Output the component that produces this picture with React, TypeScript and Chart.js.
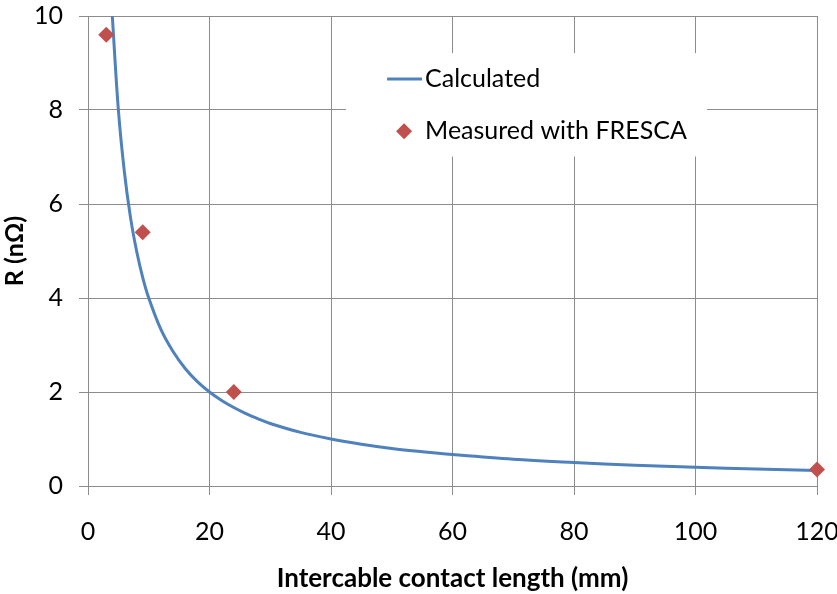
import React, { useEffect, useRef } from "react";
import { Chart, registerables } from "chart.js";

Chart.register(...registerables);

// Calculated curve
const calcLength = [4, 5, 6, 7, 8, 9, 10, 12, 14, 16, 18, 20, 22, 24, 26, 28, 30, 35, 40, 45, 50, 55, 60, 70, 80, 90, 100, 110, 120];
const calcR = [10, 8, 6.67, 5.71, 5, 4.44, 4, 3.33, 2.86, 2.5, 2.22, 2, 1.82, 1.67, 1.54, 1.43, 1.33, 1.14, 1.0, 0.89, 0.8, 0.73, 0.67, 0.57, 0.5, 0.44, 0.4, 0.36, 0.33];

// Measured points
const measLength = [3, 9, 24, 120];
const measR = [9.6, 5.4, 2.0, 0.35];

const seriesNames = ["Calculated", "Measured with FRESCA"];
const xTitle = "Intercable contact length (mm)";
const yTitle = "R (nΩ)";

const LINE_COLOR = "#4F81BD";
const MARK_COLOR = "#C0504D";
const GRID = "#8c8c8c";
const FONT = "Lato, 'Open Sans', sans-serif";

const legendPlugin = {
  id: "insideLegend",
  afterDatasetsDraw(chart: any) {
    const { ctx, chartArea } = chart;
    const w = chartArea.right - chartArea.left;
    const h = chartArea.bottom - chartArea.top;
    const bx = chartArea.left + w * 0.354;
    const by = chartArea.top + h * 0.079;
    const bw = w * 0.495;
    const bh = h * 0.22;
    ctx.save();
    ctx.fillStyle = "#ffffff";
    ctx.fillRect(bx, by, bw, bh);
    const y1 = by + bh * 0.25;
    const y2 = by + bh * 0.755;
    const textX = bx + 79;
    ctx.strokeStyle = LINE_COLOR;
    ctx.lineWidth = 3;
    ctx.beginPath();
    ctx.moveTo(bx + 41, y1);
    ctx.lineTo(bx + 76, y1);
    ctx.stroke();
    ctx.fillStyle = MARK_COLOR;
    const cx = bx + 58;
    const r = 8;
    ctx.beginPath();
    ctx.moveTo(cx, y2 - r);
    ctx.lineTo(cx + r, y2);
    ctx.lineTo(cx, y2 + r);
    ctx.lineTo(cx - r, y2);
    ctx.closePath();
    ctx.fill();
    ctx.fillStyle = "#000";
    ctx.font = `25px ${FONT}`;
    ctx.textBaseline = "middle";
    ctx.textAlign = "left";
    ctx.fillText(chart.data.datasets[0].label, textX, y1);
    ctx.fillText(chart.data.datasets[1].label, textX, y2);
    ctx.restore();
  },
};

function zeroPad(scale: any) {
  scale.paddingTop = 0;
  scale.paddingBottom = 0;
  scale.paddingLeft = 0;
  scale.paddingRight = 0;
}

export default function App() {
  const ref = useRef<HTMLCanvasElement>(null);
  useEffect(() => {
    if (!ref.current) return;
    const chart = new Chart(ref.current, {
      type: "scatter",
      data: {
        datasets: [
          {
            label: seriesNames[0],
            data: calcLength.map((x, i) => ({ x, y: calcR[i] })),
            showLine: true,
            borderColor: LINE_COLOR,
            borderWidth: 3,
            pointRadius: 0,
            tension: 0.35,
            fill: false,
            order: 2,
          },
          {
            label: seriesNames[1],
            data: measLength.map((x, i) => ({ x, y: measR[i] })),
            showLine: false,
            pointStyle: "rectRot",
            pointRadius: 8,
            pointBackgroundColor: MARK_COLOR,
            pointBorderColor: MARK_COLOR,
            pointBorderWidth: 0,
            clip: false as any,
            order: 1,
          },
        ],
      },
      options: {
        animation: false,
        responsive: false,
        maintainAspectRatio: false,
        layout: { padding: { top: 16, right: 20, left: 0, bottom: 0 } },
        plugins: {
          legend: { display: false },
          tooltip: { enabled: false },
        },
        scales: {
          x: {
            type: "linear",
            min: 0,
            max: 120,
            ticks: { stepSize: 20, color: "#000", font: { family: FONT, size: 25 }, padding: 22 },
            grid: { color: GRID, tickLength: 9, drawTicks: true, tickColor: GRID },
            border: { color: GRID },
            title: {
              display: true,
              text: xTitle,
              color: "#000",
              font: { family: FONT, size: 26, weight: "bold" },
              padding: { top: 4, bottom: 0 },
            },
            afterFit(scale: any) {
              scale.height = 108;
              zeroPad(scale);
            },
          },
          y: {
            type: "linear",
            min: 0,
            max: 10,
            ticks: { stepSize: 2, color: "#000", font: { family: FONT, size: 25 }, padding: 16 },
            grid: { color: GRID, tickLength: 9, drawTicks: true, tickColor: GRID },
            border: { color: GRID },
            title: {
              display: true,
              text: yTitle,
              color: "#000",
              font: { family: FONT, size: 25, weight: "bold" },
              padding: { top: 0, bottom: 0 },
            },
            afterFit(scale: any) {
              scale.width = 88;
              zeroPad(scale);
            },
          },
        },
      },
      plugins: [legendPlugin],
    });
    return () => chart.destroy();
  }, []);
  return (
    <div style={{ position: "fixed", left: 0, top: 0, width: 837, height: 594, background: "#fff" }}>
      <canvas ref={ref} width={837} height={594} style={{ display: "block" }} />
    </div>
  );
}
